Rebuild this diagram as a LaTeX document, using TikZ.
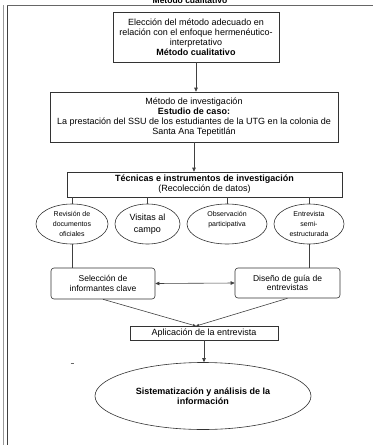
\documentclass[tikz,border=0pt]{standalone}
\usepackage{fontspec}
\setmainfont{Liberation Sans}
\usetikzlibrary{shapes.geometric,arrows.meta}
\begin{document}
\begin{tikzpicture}[x=1pt,y=-1pt,
  box/.style={draw=black!80, line width=0.6pt, align=center, inner sep=0pt, font=\fontsize{9}{10}\selectfont},
  rbox/.style={box, rounded corners=3pt, font=\fontsize{8.5}{9.5}\selectfont},
  ell/.style={draw=black!80, line width=0.6pt, ellipse, align=center, inner sep=0pt, minimum height=40pt, font=\fontsize{7}{10}\selectfont},
  conn/.style={draw=black!75, line width=0.6pt},
  arr/.style={conn, -{Triangle[length=4pt,width=3.5pt]}},
  arrsmall/.style={conn, -{Triangle[length=3pt,width=2.5pt]}},
  frameline/.style={line width=0.8pt},
]
\useasboundingbox (0,0) rectangle (373,445);

% frame
\draw[frameline, black!40] (3,5) -- (3,445);
\draw[frameline, black!75] (7,5) -- (7,445);
\draw[frameline, black!60] (7,5) -- (373,5);
\node[font=\bfseries\fontsize{8.5}{10}\selectfont, anchor=base, inner sep=0pt] (title) at (190,3.5) {Método cualitativo};

% boxes
\node[box, minimum width=166pt, minimum height=50pt] (b1) at (196,37)
  {Elección del método adecuado en\\relación con el enfoque hermenéutico-\\interpretativo\\\textbf{Método cualitativo}};
\node[box, minimum width=288pt, minimum height=50pt] (b2) at (194,117)
  {Método de investigación\\\textbf{Estudio de caso:}\\La prestación del SSU de los estudiantes de la UTG en la colonia de\\Santa Ana Tepetitlán};
\node[box, minimum width=275pt, minimum height=25pt] (b3) at (204.5,184.5)
  {\textbf{Técnicas e instrumentos de investigación}\\(Recolección de datos)};

% ellipses
\node[ell, minimum width=72pt] (e1) at (72,224) {Revisión de\\documentos\\oficiales};
\node[ell, minimum width=65pt, font=\fontsize{9}{12}\selectfont] (e2) at (147.5,224) {Visitas al\\campo};
\node[ell, minimum width=80pt] (e3) at (227,224) {Observación\\participativa\\\mbox{}};
\node[ell, minimum width=70pt] (e4) at (309,224) {Entrevista\\semi-\\estructurada};

% lower boxes
\node[rbox, minimum width=104pt, minimum height=31pt] (sel) at (103,283.5) {Selección de\\informantes clave};
\node[rbox, minimum width=105pt, minimum height=30pt] (dis) at (287.5,283) {Diseño de guía de\\entrevistas};
\node[box, minimum width=148pt, minimum height=14pt] (apl) at (204,333) {Aplicación de la entrevista};
\node[ell, minimum width=216pt, minimum height=67pt, font=\bfseries\fontsize{9}{10}\selectfont] (fin) at (203,396)
  {Sistematización y análisis de la\\información};

% connectors
\draw[arr] (b1.south) -- (b1.south |- b2.north);
\draw[arr] (b2.south) -- (b2.south |- b3.north);
\foreach \e in {e1,e2,e3,e4} { \draw[conn] (\e.north |- b3.south) -- (\e.north); }
\draw[conn] (e1.south) -- (e1.south |- sel.north);
\draw[conn] (e4.south) -- (e4.south |- dis.north);
\draw[conn, {Triangle[length=4pt,width=3.5pt]}-{Triangle[length=4pt,width=3.5pt]}] (sel.east) -- (dis.west);
\coordinate (apin) at (196,326);
\draw[arrsmall] (sel.south) -- (apin);
\draw[arrsmall] (dis.south) -- (apin);
\draw[arr] (apl.south) -- (apl.south |- fin.north);

% stray mark
\draw[black!60, line width=1pt] (70.5,363) -- (73.5,363);
\end{tikzpicture}
\end{document}
